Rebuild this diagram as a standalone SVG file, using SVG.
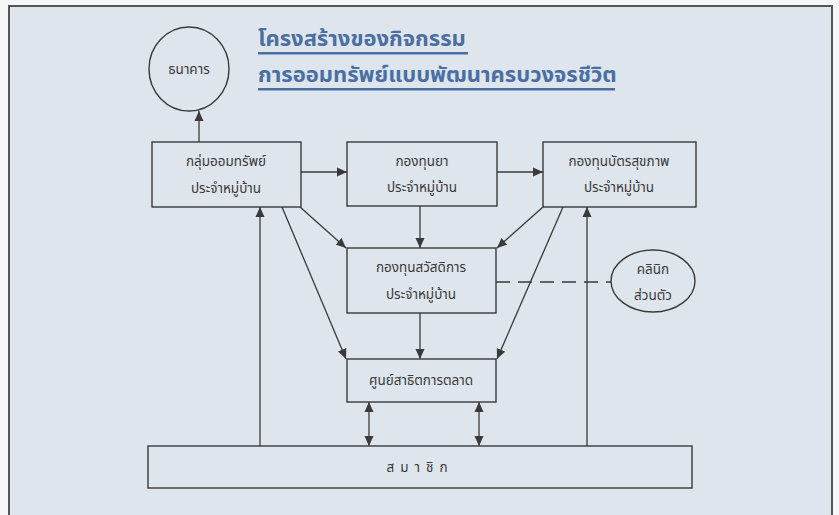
<svg xmlns="http://www.w3.org/2000/svg" width="839" height="515" viewBox="0 0 839 515">
<defs>
<style>
.box{fill:none;stroke:#3a3a3a;stroke-width:1.4}
.ln{fill:none;stroke:#3a3a3a;stroke-width:1.3}
.t{font-family:"Noto Sans Thai","Noto Sans","DejaVu Sans",sans-serif;font-size:13.5px;fill:#3a3a3a;text-anchor:middle}
.title{font-family:"Noto Sans Thai","Noto Sans","DejaVu Sans",sans-serif;font-size:22px;font-weight:bold;fill:#4a6fa3}
</style>
<marker id="ah" viewBox="0 0 10 10" refX="10" refY="5" markerWidth="10" markerHeight="10" markerUnits="userSpaceOnUse" orient="auto-start-reverse">
<path d="M0,0.5 L10,5 L0,9.5 z" fill="#3a3a3a"/>
</marker>
</defs>
<rect x="0" y="0" width="839" height="515" fill="#f4f6f8"/>
<rect x="9" y="6" width="823" height="520" fill="#dfe5ec" stroke="#555" stroke-width="2"/>
<g id="title">
<text class="title" x="258" y="46">โครงสร้างของกิจกรรม</text>
<rect x="258" y="52" width="210" height="2.5" fill="#4a6fa3"/>
<text class="title" x="258" y="82">การออมทรัพย์แบบพัฒนาครบวงจรชีวิต</text>
<rect x="258" y="88" width="357" height="2.5" fill="#4a6fa3"/>
</g>
<g id="connectors">
<line class="ln" x1="199" y1="142" x2="199" y2="111" marker-end="url(#ah)"/>
<line class="ln" x1="301" y1="172" x2="347" y2="172" marker-end="url(#ah)"/>
<line class="ln" x1="497" y1="172" x2="543" y2="172" marker-end="url(#ah)"/>
<line class="ln" x1="300" y1="207" x2="346" y2="248" marker-end="url(#ah)"/>
<line class="ln" x1="420" y1="206" x2="420" y2="248" marker-end="url(#ah)"/>
<line class="ln" x1="543" y1="207" x2="497" y2="248" marker-end="url(#ah)"/>
<line class="ln" x1="282" y1="207" x2="346" y2="359" marker-end="url(#ah)"/>
<line class="ln" x1="420" y1="313" x2="420" y2="359" marker-end="url(#ah)"/>
<line class="ln" x1="563" y1="207" x2="497" y2="359" marker-end="url(#ah)"/>
<line class="ln" x1="260" y1="446" x2="260" y2="207" marker-end="url(#ah)"/>
<line class="ln" x1="587" y1="446" x2="587" y2="207" marker-end="url(#ah)"/>
<line class="ln" x1="369" y1="402" x2="369" y2="446" marker-start="url(#ah)" marker-end="url(#ah)"/>
<line class="ln" x1="479" y1="402" x2="479" y2="446" marker-start="url(#ah)" marker-end="url(#ah)"/>
<line class="ln" x1="496" y1="282" x2="611" y2="282" stroke-dasharray="14,8"/>
</g>
<g id="bank">
<ellipse class="box" cx="189" cy="69" rx="40" ry="42"/>
<text class="t" x="189" y="74">ธนาคาร</text>
</g>
<g id="savings-group">
<rect class="box" x="152" y="142" width="149" height="65"/>
<text class="t" x="226" y="166">กลุ่มออมทรัพย์</text>
<text class="t" x="226" y="193">ประจำหมู่บ้าน</text>
</g>
<g id="medicine-fund">
<rect class="box" x="347" y="142" width="150" height="64"/>
<text class="t" x="422" y="166">กองทุนยา</text>
<text class="t" x="422" y="192">ประจำหมู่บ้าน</text>
</g>
<g id="health-card-fund">
<rect class="box" x="543" y="142" width="153" height="65"/>
<text class="t" x="619" y="166">กองทุนบัตรสุขภาพ</text>
<text class="t" x="619" y="192">ประจำหมู่บ้าน</text>
</g>
<g id="welfare-fund">
<rect class="box" x="347" y="248" width="149" height="65"/>
<text class="t" x="421" y="272">กองทุนสวัสดิการ</text>
<text class="t" x="421" y="299">ประจำหมู่บ้าน</text>
</g>
<g id="clinic">
<ellipse class="box" cx="653" cy="281" rx="42" ry="31"/>
<text class="t" x="653" y="274">คลินิก</text>
<text class="t" x="653" y="300">ส่วนตัว</text>
</g>
<g id="market-center">
<rect class="box" x="347" y="359" width="149" height="43"/>
<text class="t" x="421" y="385">ศูนย์สาธิตการตลาด</text>
</g>
<g id="members">
<rect class="box" x="148" y="446" width="544" height="42"/>
<text class="t" x="420" y="472" letter-spacing="6">สมาชิก</text>
</g>
</svg>
